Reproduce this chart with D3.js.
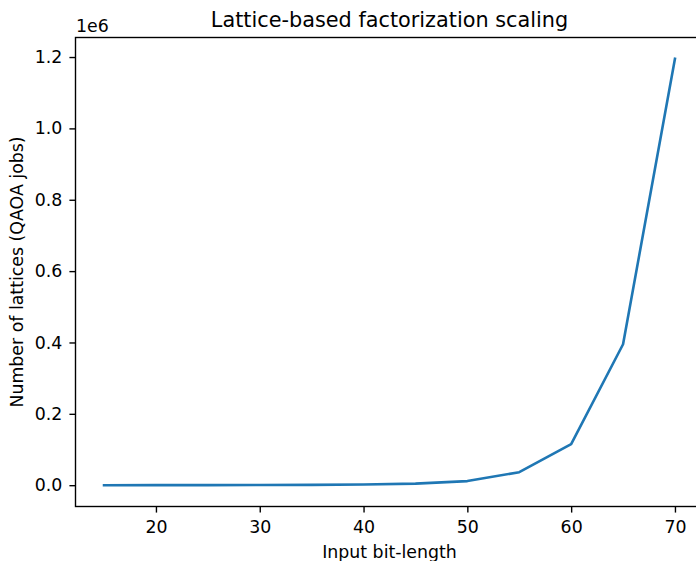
<!DOCTYPE html>
<html><head><meta charset="utf-8">
<script src="https://cdn.jsdelivr.net/npm/d3@7"></script>
<style>body{margin:0;background:#fff}svg{display:block}text{font-family:"DejaVu Sans",sans-serif;fill:#000}</style>
</head><body><svg id="c" width="696" height="561"></svg>
<script>
const bitLengths = [15, 20, 25, 30, 35, 40, 45, 50, 55, 60, 65, 70];
const latticeCounts = [30, 80, 200, 450, 900, 1800, 4500, 11500, 36500, 115000, 395000, 1195000];
const yTicks = [0, 0.2e6, 0.4e6, 0.6e6, 0.8e6, 1.0e6, 1.2e6];
const xTicks = [20, 30, 40, 50, 60, 70];
const title = "Lattice-based factorization scaling";
const xLabel = "Input bit-length";
const yLabel = "Number of lattices (QAOA jobs)";

const svg = d3.select("#c");
const L = 75.5, R = 703.5, T = 37.5, B = 506.5;
const FS = 17.36, TFS = 20.8, TICK = 6.08, LW = 1.39;
const xmin = d3.min(bitLengths), xmax = d3.max(bitLengths);
const xm = (xmax - xmin) * 0.05;
const ymin = d3.min(latticeCounts), ymax = d3.max(latticeCounts);
const ym = (ymax - ymin) * 0.05;
const x = d3.scaleLinear().domain([xmin - xm, xmax + xm]).range([L, R]);
const y = d3.scaleLinear().domain([ymin - ym, ymax + ym]).range([B, T]);

const line = d3.line().x((d, i) => x(bitLengths[i])).y(d => y(d));
svg.append("path").datum(latticeCounts).attr("d", line)
  .attr("fill", "none").attr("stroke", "#1f77b4").attr("stroke-width", 2.6)
  .attr("stroke-linejoin", "round").attr("stroke-linecap", "square");

const xAxis = svg.append("g").attr("transform", `translate(0,${B})`)
  .call(d3.axisBottom(x).tickValues(xTicks).tickFormat(d3.format("d")).tickSize(TICK).tickPadding(TICK + 2.3).tickSizeOuter(0));
const yAxis = svg.append("g").attr("transform", `translate(${L},0)`)
  .call(d3.axisLeft(y).tickValues(yTicks).tickFormat(d => (d / 1e6).toFixed(1)).tickSize(TICK).tickPadding(TICK + 1).tickSizeOuter(0));
[xAxis, yAxis].forEach(g => {
  g.select(".domain").remove();
  g.selectAll("line").attr("stroke", "#000").attr("stroke-width", LW);
  g.selectAll("text").attr("font-size", FS + "px").attr("font-family", "DejaVu Sans, sans-serif").attr("fill", "#000");
});

svg.append("rect").attr("x", L).attr("y", T).attr("width", R - L).attr("height", B - T)
  .attr("fill", "none").attr("stroke", "#000").attr("stroke-width", LW);

svg.append("text").attr("x", (L + R) / 2).attr("y", 26.5).attr("text-anchor", "middle")
  .attr("font-size", TFS + "px").text(title);
svg.append("text").attr("x", (L + R) / 2).attr("y", 557.5).attr("text-anchor", "middle")
  .attr("font-size", FS + "px").text(xLabel);
svg.append("text").attr("transform", `translate(23,${(T + B) / 2}) rotate(-90)`).attr("text-anchor", "middle")
  .attr("font-size", FS + "px").text(yLabel);
svg.append("text").attr("x", L + 0.5).attr("y", 31.5).attr("font-size", FS + "px").text("1e6");
</script></body></html>
